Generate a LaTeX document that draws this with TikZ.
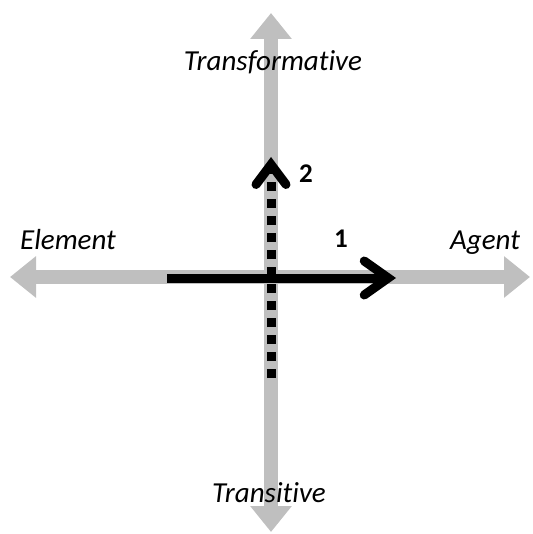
\documentclass[tikz,border=0pt]{standalone}
\usepackage{fontspec}
\setmainfont{Carlito}[Ligatures=NoCommon]
\usetikzlibrary{arrows.meta}
\definecolor{axisgray}{RGB}{191,191,191}
\tikzset{
  axis/.style={draw=axisgray, line width=14pt, -{Triangle[width=40pt,length=26pt]}},
  lbl/.style={font=\itshape\fontsize{29}{32}\selectfont, inner sep=0pt},
  num/.style={font=\bfseries\fontsize{27}{30}\selectfont, inner sep=0pt},
  bold arrow/.style={draw=black, line width=9pt, -{Straight Barb[length=24pt,width=34pt,line cap=round]}},
  dash arrow/.style={draw=black, line width=9pt, dash pattern=on 9pt off 8pt, -{Straight Barb[length=20pt,width=30pt,line cap=round]}}
}
\begin{document}
\begin{tikzpicture}[x=1pt,y=-1pt]
\useasboundingbox (0,0) rectangle (532,534);
\coordinate (C) at (271,277);
\coordinate (L) at (10,277);
\coordinate (R) at (530,277);
\coordinate (T) at (271,13);
\coordinate (B) at (271,532);
\draw[axis] (C) -- (L);
\draw[axis] (C) -- (R);
\draw[axis] (C) -- (T);
\draw[axis] (C) -- (B);
\coordinate (s1) at (167,278);
\coordinate (e1) at (396,278);
\draw[bold arrow] (s1) -- (e1);
\coordinate (s2) at (271,378);
\coordinate (e2) at (271,157);
\draw[dash arrow] (s2) -- (e2);
\node[lbl] (tt) at (273,62) {Transformative};
\node[lbl] (te) at (68,240) {Element};
\node[lbl] (ta) at (485,243) {Agent};
\node[lbl] (tr) at (269,493) {Transitive};
\node[num] (n1) at (341,239) {1};
\node[num] (n2) at (306,174) {2};
\end{tikzpicture}
\end{document}
